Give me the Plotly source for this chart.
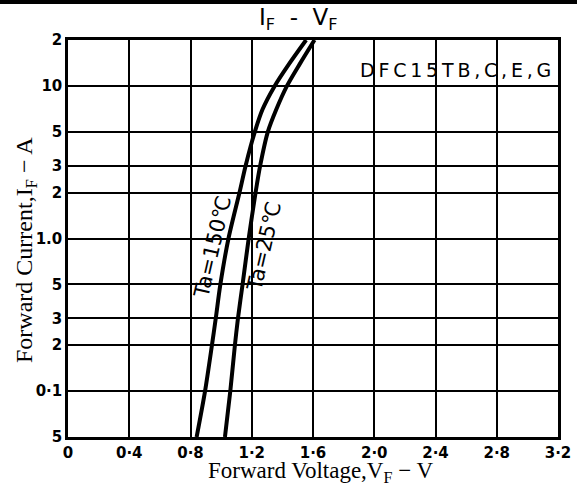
import plotly.graph_objects as go
import math

# ---- data ----
current_a = [0.05, 0.1, 0.2, 0.3, 0.5, 1.0, 2, 3, 5, 7, 10, 14, 20]
vf_150c = [0.84, 0.895, 0.94, 0.965, 0.995, 1.048, 1.12, 1.16, 1.22, 1.27, 1.35, 1.445, 1.555]
vf_25c = [1.025, 1.06, 1.09, 1.11, 1.14, 1.18, 1.225, 1.255, 1.305, 1.36, 1.43, 1.515, 1.61]

x_ticks = [0, 0.4, 0.8, 1.2, 1.6, 2.0, 2.4, 2.8, 3.2]
x_ticktext = ["0", "0·4", "0·8", "1·2", "1·6", "2·0", "2·4", "2·8", "3·2"]
y_ticks = [0.05, 0.1, 0.2, 0.3, 0.5, 1.0, 2, 3, 5, 10, 20]
y_ticktext = ["5", "0·1", "2", "3", "5", "1.0", "2", "3", "5", "10", "2"]

fig = go.Figure()
for vf, name in [(vf_150c, "Ta=150℃"), (vf_25c, "Ta=25℃")]:
    fig.add_trace(go.Scatter(x=vf, y=current_a, mode="lines", name=name,
                             line=dict(color="black", width=4, shape="spline", smoothing=0.8),
                             showlegend=False))

tickfont = dict(family="DejaVu Sans", size=15, color="black", weight="bold")
fig.update_xaxes(range=[0, 3.2], tickvals=x_ticks, ticktext=x_ticktext, tickfont=tickfont,
                 showgrid=True, gridcolor="black", gridwidth=1.5,
                 showline=True, linecolor="black", linewidth=2.5, mirror=True,
                 ticks="", zeroline=False, automargin=False)
fig.update_yaxes(type="log", range=[math.log10(0.05), math.log10(20)], tickvals=y_ticks,
                 ticktext=y_ticktext, tickfont=tickfont,
                 showgrid=True, gridcolor="black", gridwidth=1.5,
                 showline=True, linecolor="black", linewidth=2.5, mirror=True,
                 ticks="", zeroline=False, automargin=False)

anns = [
    dict(text="Ta=150℃", x=0.947, y=math.log10(0.875), textangle=-77,
         font=dict(family="DejaVu Sans", size=21, color="black")),
    dict(text="Ta=25℃", x=1.28, y=math.log10(0.88), textangle=-77,
         font=dict(family="DejaVu Sans", size=21, color="black")),
    dict(text="D\u2009F\u2009C\u20091\u20095\u2009T\u2009B\u2009,\u2009C\u2009,\u2009E\u2009,\u2009G",
         x=2.53, y=math.log10(12.7),
         font=dict(family="DejaVu Sans", size=19, color="black")),
]
for a in anns:
    fig.add_annotation(showarrow=False, xref="x", yref="y", xanchor="center", yanchor="middle", **a)

# axis titles
fig.add_annotation(text="Forward Voltage,V<sub>F</sub> − V", xref="paper", yref="paper",
                   x=(320 - 68) / 490, y=-(472 - 437) / 397, showarrow=False,
                   xanchor="center", yanchor="middle",
                   font=dict(family="Liberation Serif", size=23, color="black"))
fig.add_annotation(text="Forward Current,I<sub>F</sub> − A", xref="paper", yref="paper",
                   x=-(68 - 26) / 490, y=1 - (250 - 40) / 397, textangle=-90, showarrow=False,
                   xanchor="center", yanchor="middle",
                   font=dict(family="Liberation Serif", size=24, color="black"))
# title
fig.add_annotation(text="I<sub>F</sub>  -  V<sub>F</sub>", xref="paper", yref="paper",
                   x=(298 - 68) / 490, y=1 + (40 - 19) / 397, showarrow=False,
                   xanchor="center", yanchor="middle",
                   font=dict(family="DejaVu Sans", size=23, color="black"))
# top scan border
fig.add_shape(type="rect", xref="paper", yref="paper", x0=-0.2, x1=1.1,
              y0=1 + (40 - 4) / 397, y1=1 + (40 + 0) / 397, fillcolor="black", line_width=0)

fig.update_layout(width=577, height=488, margin=dict(l=68, r=19, t=40, b=51),
                  plot_bgcolor="white", paper_bgcolor="white")
fig.write_html("out.html", config={"displayModeBar": False},
               post_script="document.body.style.margin='0';document.body.style.overflow='hidden';")
